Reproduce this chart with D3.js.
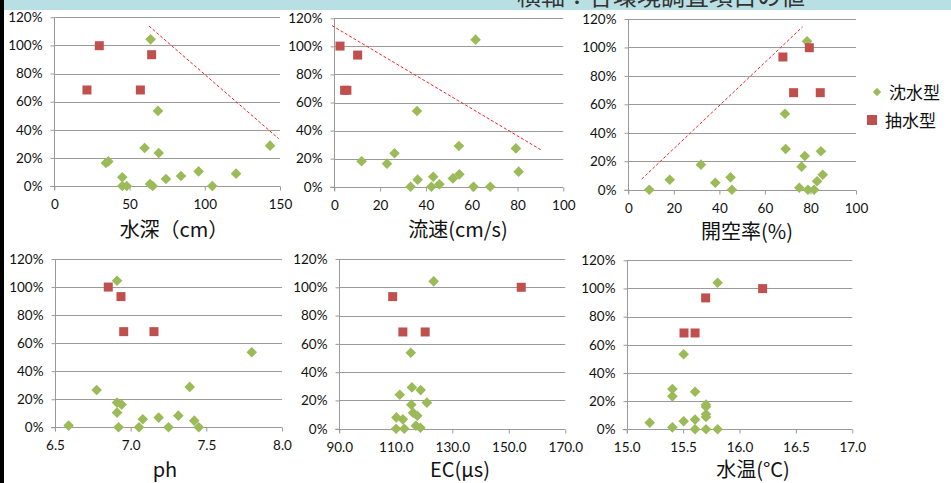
<!DOCTYPE html>
<html>
<head>
<meta charset="utf-8">
<script src="https://cdn.jsdelivr.net/npm/d3@7"></script>
<style>
  html, body { margin: 0; padding: 0; background: #fff; }
  svg { display: block; }
</style>
</head>
<body>
<svg id="chart" width="951" height="483"></svg>
<script>
// ---------- DATA ----------
const headerTitle = "横軸：各環境調査項目の値";
const seriesNames = ["沈水型", "抽水型"];
const yTicks = [0, 20, 40, 60, 80, 100, 120];

// 水深 (cm)
const depthSubmerged = [[64.0,104.3],[68.9,53.4],[143.4,28.7],[60.0,27.0],[69.4,23.5],[35.9,17.5],[34.3,16.4],[95.9,10.4],[120.8,8.8],[84.2,7.1],[45.2,6.2],[74.2,5.0],[63.6,1.4],[45.2,0],[48.1,0],[65.4,0],[105.0,0]];
const depthEmergent = [[29.9,99.8],[64.7,93.4],[21.7,68.3],[57.2,68.3]];
const depthTrend = [[62.9,113.8],[149.1,33.7]];
const depthTicks = [0, 50, 100, 150];

// 流速 (cm/s)
const flowSubmerged = [[61.7,104.8],[36.1,53.9],[54.4,29.0],[79.3,27.3],[26.3,23.8],[11.9,18.1],[23.0,16.4],[80.5,10.7],[54.6,8.8],[43.2,7.1],[51.8,5.9],[36.4,5.0],[45.9,1.7],[33.3,0],[42.4,0],[60.8,0],[68.1,0]];
const flowEmergent = [[2.5,100.2],[10.2,93.8],[4.5,68.7],[5.5,68.7]];
const flowTrend = [[-1,114.8],[90.1,26.4]];
const flowTicks = [0, 20, 40, 60, 80, 100];

// 開空率 (%)
const openSubmerged = [[78.5,104.3],[68.8,53.4],[69.1,28.6],[84.6,27.0],[77.5,23.7],[31.9,17.6],[76.1,16.2],[85.4,10.5],[44.9,8.7],[18.2,7.0],[82.9,5.9],[38.2,4.9],[75.1,1.4],[9.2,0],[45.5,0],[78.9,0],[81.6,0]];
const openEmergent = [[67.9,93.3],[79.5,99.8],[72.6,68.2],[84.3,68.2]];
const openTrend = [[5.9,7.5],[76.6,114.6]];
const openTicks = [0, 20, 40, 60, 80, 100];

// ph
const phSubmerged = [[6.91,104.5],[7.80,53.5],[7.39,28.8],[6.775,26.6],[6.91,17.6],[6.94,16.2],[6.91,10.5],[7.315,8.3],[7.185,6.9],[7.08,5.7],[7.42,4.75],[6.59,1.2],[6.92,0],[7.055,0],[7.25,0],[7.45,0]];
const phEmergent = [[6.852,100],[6.936,93.2],[6.954,68.2],[7.154,68.2]];
const phTicks = [6.5, 7.0, 7.5, 8.0];

// EC (µs)
const ecSubmerged = [[123.4,104.2],[115.3,53.7],[115.7,29.2],[118.8,27.3],[111.4,24.0],[121.0,18.4],[115.5,17.0],[116.1,11.3],[117.6,9.2],[110.2,8.0],[112.5,6.6],[117.1,2.1],[118.7,0.7],[110.1,0],[113.0,0]];
const ecEmergent = [[108.9,93.4],[154.4,100],[112.5,68.4],[120.4,68.4]];
const ecTicks = [90, 110, 130, 150, 170];

// 水温 (°C)
const tempSubmerged = [[15.806,104.1],[15.505,53.3],[15.405,28.6],[15.405,23.4],[15.606,26.7],[15.703,17.5],[15.703,16.1],[15.703,10.7],[15.703,8.8],[15.204,4.7],[15.505,5.7],[15.606,6.9],[15.405,1.4],[15.606,0],[15.703,0],[15.806,0]];
const tempEmergent = [[15.70,93.3],[16.205,99.9],[15.508,68.4],[15.606,68.4]];
const tempTicks = [15.0, 15.5, 16.0, 16.5, 17.0];

// ---------- LAYOUT ----------
const panels = [
  { title: "水深（cm）", sub: depthSubmerged, emer: depthEmergent, trend: depthTrend, ticks: depthTicks, fmt: d3.format("d"),
    box: [54.3, 280, 17.3, 186], titleX: 174, titleY: 237 },
  { title: "流速(cm/s)", sub: flowSubmerged, emer: flowEmergent, trend: flowTrend, ticks: flowTicks, fmt: d3.format("d"),
    box: [334.3, 563.3, 18.3, 186.7], titleX: 458, titleY: 237 },
  { title: "開空率(%)", sub: openSubmerged, emer: openEmergent, trend: openTrend, ticks: openTicks, fmt: d3.format("d"),
    box: [628.3, 856, 19, 189.7], titleX: 747, titleY: 239 },
  { title: "ph", sub: phSubmerged, emer: phEmergent, trend: null, ticks: phTicks, fmt: d3.format(".1f"),
    box: [55, 282, 259, 427.3], titleX: 165, titleY: 477 },
  { title: "EC(µs)", sub: ecSubmerged, emer: ecEmergent, trend: null, ticks: ecTicks, fmt: d3.format(".1f"),
    box: [339.3, 565.3, 259, 428.7], titleX: 460, titleY: 477 },
  { title: "水温(°C)", sub: tempSubmerged, emer: tempEmergent, trend: null, ticks: tempTicks, fmt: d3.format(".1f"),
    box: [626.7, 852.3, 260.3, 429.3], titleX: 753, titleY: 477 }
];

const GREEN = "#9bbb59", RED = "#c0504d", GRID = "#9a9a9a";
const tickFont = "Lato, 'Open Sans', sans-serif";
const cjkFont = "'Noto Sans CJK JP', 'Noto Sans', sans-serif";

const svg = d3.select("#chart");

// header band
svg.append("rect").attr("x", 0).attr("y", 0).attr("width", 951).attr("height", 10).attr("fill", "#b8e0e4");
svg.append("text").attr("x", 517).attr("y", 5).attr("font-family", cjkFont).attr("font-size", 24)
  .attr("fill", "#333").text(headerTitle);

const diamond = d3.symbol().type(d3.symbolDiamond2);

panels.forEach(p => {
  const [x0, x1, y0, y1] = p.box;
  const x = d3.scaleLinear().domain([p.ticks[0], p.ticks[p.ticks.length - 1]]).range([x0, x1]);
  const y = d3.scaleLinear().domain([0, 120]).range([y1, y0]);
  const g = svg.append("g");

  // gridlines
  g.append("g").selectAll("line").data(yTicks.slice(1)).join("line")
    .attr("x1", x0).attr("x2", x1).attr("y1", d => Math.round(y(d)) + 0.5).attr("y2", d => Math.round(y(d)) + 0.5)
    .attr("stroke", GRID).attr("stroke-width", 1);

  // y axis
  const yAxis = d3.axisLeft(y).tickValues(yTicks).tickFormat(d => d + "%").tickSize(4).tickPadding(8);
  const ya = g.append("g").attr("transform", `translate(${Math.round(x0) + 0.5},0)`).call(yAxis);
  ya.select(".domain").attr("stroke", GRID).attr("d", `M0,${y0}V${y1 + 4}`);
  ya.selectAll(".tick line").attr("stroke", GRID);
  ya.selectAll(".tick text").attr("font-family", tickFont).attr("font-size", 13.5).attr("fill", "#111");

  // x axis
  const xAxis = d3.axisBottom(x).tickValues(p.ticks).tickFormat(p.fmt).tickSize(4).tickPadding(9);
  const xa = g.append("g").attr("transform", `translate(0,${Math.round(y1) + 0.5})`).call(xAxis);
  xa.select(".domain").attr("stroke", GRID).attr("d", `M${x0 - 4},0H${x1}`);
  xa.selectAll(".tick line").attr("stroke", GRID);
  xa.selectAll(".tick text").attr("font-family", tickFont).attr("font-size", 13.5).attr("fill", "#111");

  // trend line
  if (p.trend) {
    g.append("path").datum(p.trend)
      .attr("d", d3.line().x(d => x(d[0])).y(d => y(d[1])))
      .attr("fill", "none").attr("stroke", "#ff2020").attr("stroke-width", 1).attr("stroke-dasharray", "3,2");
  }

  // submerged (diamonds)
  g.append("g").selectAll("path").data(p.sub).join("path")
    .attr("transform", d => `translate(${x(d[0])},${y(d[1])})`)
    .attr("d", diamond.size(72)).attr("fill", GREEN);

  // emergent (squares)
  const s = 9;
  g.append("g").selectAll("rect").data(p.emer).join("rect")
    .attr("x", d => x(d[0]) - s / 2).attr("y", d => y(d[1]) - s / 2)
    .attr("width", s).attr("height", s).attr("fill", RED);

  // axis title
  g.append("text").attr("x", p.titleX).attr("y", p.titleY).attr("text-anchor", "middle")
    .attr("font-family", cjkFont).attr("font-size", 20).attr("fill", "#111").text(p.title);
});

// legend
const lg = svg.append("g");
lg.append("path").attr("transform", "translate(877,92)").attr("d", diamond.size(45)).attr("fill", GREEN);
lg.append("text").attr("x", 889).attr("y", 99).attr("font-family", cjkFont).attr("font-size", 17).attr("fill", "#111").text(seriesNames[0]);
lg.append("rect").attr("x", 867).attr("y", 115).attr("width", 10).attr("height", 10).attr("fill", RED);
lg.append("text").attr("x", 885).attr("y", 127).attr("font-family", cjkFont).attr("font-size", 17).attr("fill", "#111").text(seriesNames[1]);

// left black border
svg.append("rect").attr("x", 0).attr("y", 0).attr("width", 4).attr("height", 483).attr("fill", "#000");
</script>
</body>
</html>
